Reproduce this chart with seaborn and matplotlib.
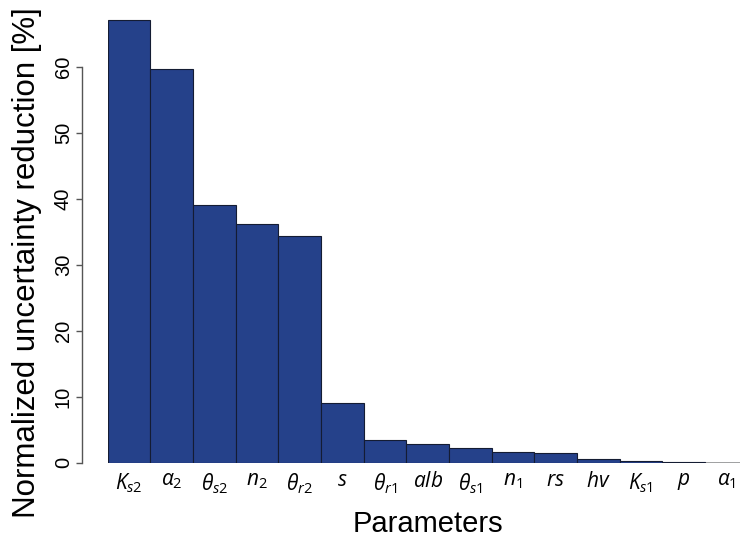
import matplotlib
matplotlib.use('Agg')
import matplotlib.pyplot as plt
import seaborn as sns

# parameter labels (mathtext) and normalized uncertainty reduction [%]
params = [r'$K_{s2}$', r'$\alpha_{2}$', r'$\theta_{s2}$', r'$n_{2}$', r'$\theta_{r2}$',
          r'$s$', r'$\theta_{r1}$', r'$alb$', r'$\theta_{s1}$', r'$n_{1}$',
          r'$rs$', r'$hv$', r'$K_{s1}$', r'$p$', r'$\alpha_{1}$']
reduction = [67.1, 59.6, 39.1, 36.1, 34.4, 9.1, 3.5, 2.9, 2.2, 1.6, 1.5, 0.6, 0.2, 0.1, 0.02]
yticks = [0, 10, 20, 30, 40, 50, 60]

sns.set_style('white')
plt.rcParams['font.family'] = ['Liberation Sans', 'DejaVu Sans']
plt.rcParams['mathtext.fontset'] = 'custom'
plt.rcParams['mathtext.rm'] = 'Open Sans'
plt.rcParams['mathtext.it'] = 'Open Sans:italic'
plt.rcParams['text.color'] = 'black'
plt.rcParams['axes.labelcolor'] = 'black'

fig = plt.figure(figsize=(7.4, 5.38), dpi=100)
# axes run past the right edge, as in the original figure
ax = fig.add_axes([107.7 / 740, 75.3 / 538, 640 / 740, 462 / 538])

ax.axhline(0, color='#9a9a9a', lw=1.2, zorder=0)
sns.barplot(x=params, y=reduction, color='#25418A', saturation=1, width=1,
            edgecolor='#141c33', linewidth=0.8, ax=ax, zorder=2)

ax.set_ylim(0, 70)
ax.set_xlim(-0.5, len(params) - 0.5)

for side in ['top', 'right', 'bottom']:
    ax.spines[side].set_visible(False)
ax.spines['left'].set_position(('outward', 18.5))
ax.spines['left'].set_bounds(0, 60)
ax.spines['left'].set_color('#555555')
ax.spines['left'].set_linewidth(1)

ax.set_yticks(yticks)
ax.set_yticklabels([str(t) for t in yticks], rotation=90, va='center')
ax.tick_params(axis='y', direction='out', length=4.5, width=1, color='#555555',
               labelcolor='black', labelsize=14.5, pad=2, left=True)
ax.tick_params(axis='x', length=0, labelsize=15, pad=6, labelcolor='black')

ax.set_xlabel('Parameters', fontsize=21, labelpad=10)
ax.set_ylabel('Normalized uncertainty reduction [%]', fontsize=22.5)
ax.yaxis.set_label_coords(-0.102, 0.434)

plt.savefig('out.png', dpi=100)
plt.close()
